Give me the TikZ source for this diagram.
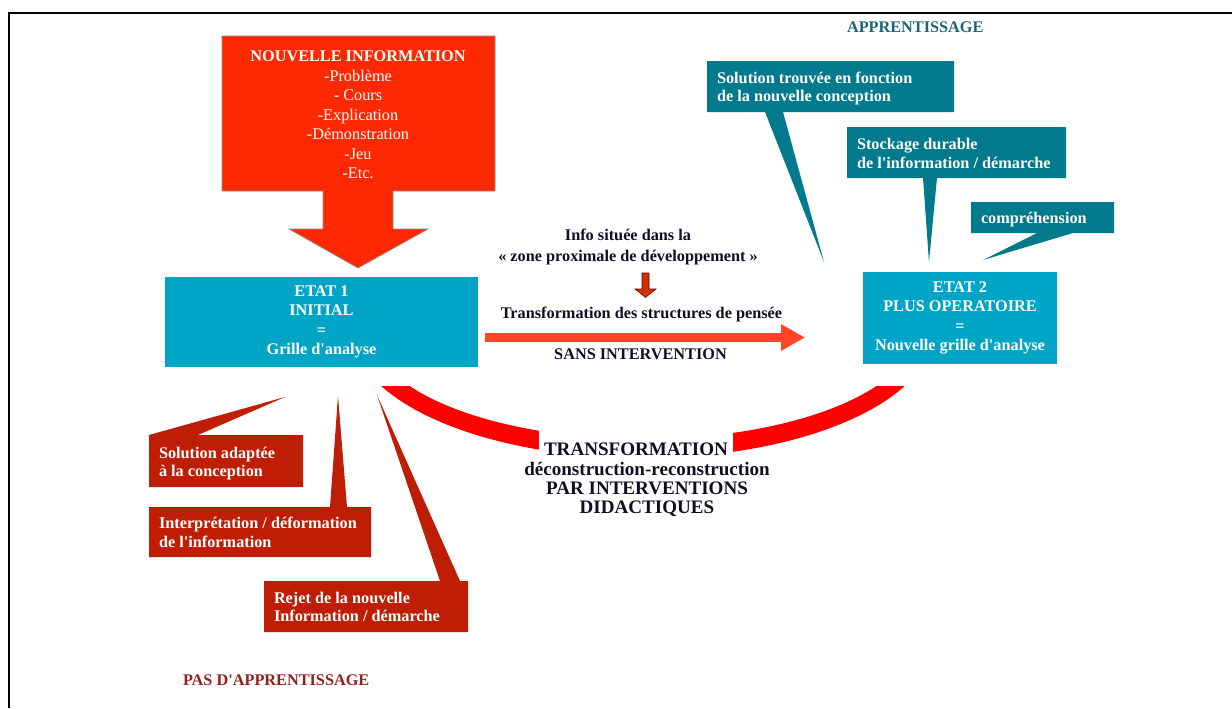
\documentclass[tikz,border=0pt]{standalone}
\usepackage{fontspec}
\setmainfont{Liberation Serif}
\usetikzlibrary{arrows.meta}
\definecolor{redbox}{RGB}{255,40,0}
\definecolor{cyanbox}{RGB}{0,165,198}
\definecolor{tealbox}{RGB}{0,122,140}
\definecolor{darkred}{RGB}{190,30,5}
\definecolor{arrowred}{RGB}{255,69,40}
\definecolor{smallarrow}{RGB}{205,50,0}
\definecolor{apprtxt}{RGB}{30,100,120}
\definecolor{pastxt}{RGB}{150,30,30}
\definecolor{navytxt}{RGB}{15,15,35}
\newcommand{\ap}{\textquotesingle}
\begin{document}
\begin{tikzpicture}[x=0.75pt,y=-0.75pt,
  every node/.style={inner sep=0pt, outer sep=0pt},
  bodyfont/.style={font=\fontsize{12.2}{14.66}\selectfont\bfseries},
  statebox/.style={bodyfont, fill=cyanbox, text=white, align=center},
  calltext/.style={font=\fontsize{12.2}{13.8}\selectfont\bfseries, text=white, align=left, anchor=west},
  tealcall/.style={fill=tealbox},
  redcall/.style={fill=darkred},
  midtext/.style={bodyfont, text=navytxt, align=center},
  bigtext/.style={font=\fontsize{14.3}{14.3}\selectfont\bfseries, text=navytxt, align=center},
  bigarrow/.style={draw=arrowred, line width=7pt, -{Triangle[length=18pt,width=18.75pt]}},
]
\useasboundingbox (0,0) rectangle (1232,708);
% frame
\draw[line width=1.5pt] (1232,13.3) -- (9,13.3) -- (9,708);

% red information callout-arrow
\filldraw[fill=redbox, draw=black!45, line width=0.5pt]
  (222,36) -- (495,36) -- (495,191) -- (393,191) -- (393,229) -- (428,229)
  -- (358,268) -- (289,229) -- (323,229) -- (323,191) -- (222,191) -- cycle;
\node[font=\fontsize{12.2}{14.66}\selectfont, text=white, align=center] (nouv) at (358,115)
  {\textbf{NOUVELLE INFORMATION}\\-Problème\\- Cours\\-Explication\\-Démonstration\\-Jeu\\-Etc.};

% state boxes
\node[statebox, minimum width=234.75pt, minimum height=67.5pt] (e1) at (321.5,322)
  {ETAT 1\\INITIAL\\=\\Grille d\ap analyse};
\node[statebox, minimum width=145.5pt, minimum height=69pt] (e2) at (960,318)
  {ETAT 2\\PLUS OPERATOIRE\\=\\Nouvelle grille d\ap analyse};

% middle texts
\node[midtext, font=\fontsize{12.2}{15.45}\selectfont\bfseries] (info) at (628,247)
  {Info située dans la\\« zone proximale de développement »};
\filldraw[fill=smallarrow, draw=black!60!red, line width=0.4pt]
  (642,273) -- (649,273) -- (649,289) -- (656,289) -- (645.5,297.5) -- (635,289) -- (642,289) -- cycle;
\node[midtext, anchor=base] (transf) at (641.5,318.5) {Transformation des structures de pensée};
\coordinate (bigS) at (485,337.5);
\coordinate (bigE) at (805,337.5);
\draw[bigarrow] (bigS) -- (bigE);
\node[midtext, anchor=base] (sans) at (640.5,359) {SANS INTERVENTION};

% red arc
\begin{scope}
  \clip (300,386) rectangle (1000,480);
  \fill[red, even odd rule] (643,330) ellipse [x radius=218.25pt, y radius=96pt]
                            (643,330) ellipse [x radius=204pt, y radius=81.75pt];
\end{scope}
\node[bigtext, fill=white, anchor=base, text height=20.5pt, text depth=3.75pt, inner xsep=3.4pt] (trA) at (636,455.4) {TRANSFORMATION};
\node[bigtext, anchor=north] (trB) at (647,462.5) {déconstruction-reconstruction\\PAR INTERVENTIONS\\DIDACTIQUES};

% teal callouts
\node[font=\fontsize{12.2}{14}\selectfont\bfseries, text=apprtxt, anchor=base west] (appr) at (847,32.3) {APPRENTISSAGE};
\fill[tealcall] (707,61) -- (954,61) -- (954,112) -- (783,112) -- (824,262) -- (765,112) -- (707,112) -- cycle;
\node[calltext] (c1t) at (717,88.7) {Solution trouvée en fonction\\de la nouvelle conception};
\fill[tealcall] (847,127) -- (1066,127) -- (1066,178) -- (937,178) -- (929,262) -- (923,178) -- (847,178) -- cycle;
\node[calltext] (c2t) at (857,153.6) {Stockage durable\\de l\ap information / démarche};
\fill[tealcall] (971,202) -- (1114,202) -- (1114,233) -- (1073,233) -- (983,260) -- (1037,233) -- (971,233) -- cycle;
\node[calltext, anchor=base west] (c3t) at (981,223.3) {compréhension};

% red callouts
\fill[redcall] (149,487) -- (149,435) -- (285,397) -- (198,435) -- (303,435) -- (303,487) -- cycle;
\node[calltext] (rAt) at (159,463.7) {Solution adaptée\\à la conception};
\fill[redcall] (149,507) -- (330,507) -- (338,396) -- (347,507) -- (371,507) -- (371,557) -- (149,557) -- cycle;
\node[calltext] (rBt) at (159,532.5) {Interprétation / déformation\\de l\ap information};
\fill[redcall] (264,581) -- (440,581) -- (377,395) -- (460,581) -- (468,581) -- (468,632) -- (264,632) -- cycle;
\node[calltext] (rCt) at (274,607) {Rejet de la nouvelle\\Information / démarche};
\node[font=\fontsize{12.2}{14}\selectfont\bfseries, text=pastxt, anchor=base west] (pas) at (183,685) {PAS D\ap APPRENTISSAGE};
\end{tikzpicture}
\end{document}
